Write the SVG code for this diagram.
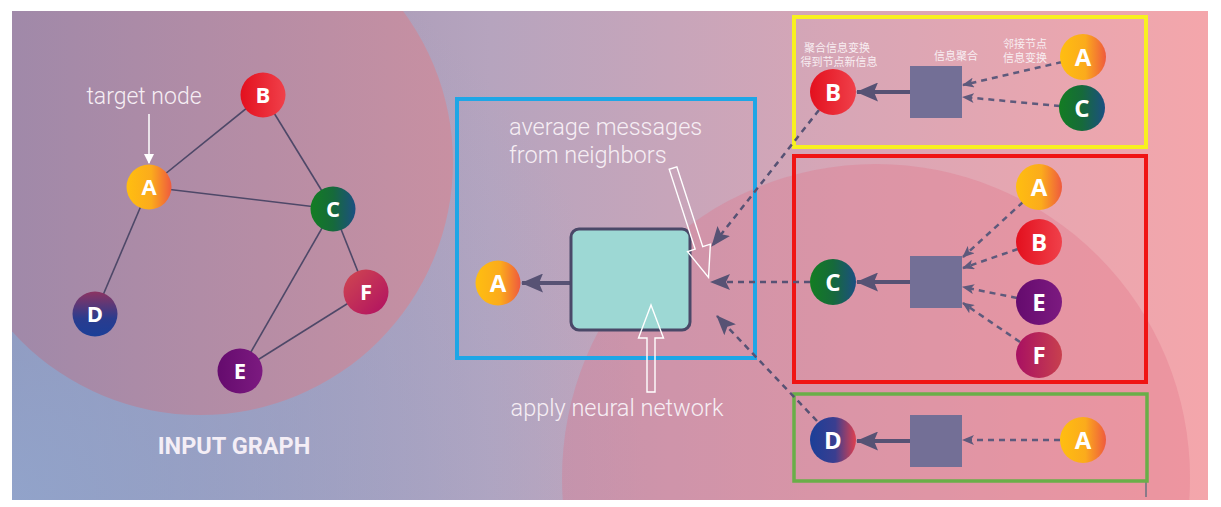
<svg xmlns="http://www.w3.org/2000/svg" width="1221" height="507" viewBox="0 0 1221 507">
<defs>
<linearGradient id="bgH" x1="0" y1="0" x2="1" y2="0">
<stop offset="0" stop-color="#8e8aac"/>
<stop offset="0.4" stop-color="#b6a4be"/>
<stop offset="0.7" stop-color="#d8a6b6"/>
<stop offset="1" stop-color="#f4a6ab"/>
</linearGradient>
<radialGradient id="bgBL" cx="0" cy="507" r="650" gradientUnits="userSpaceOnUse">
<stop offset="0" stop-color="#92a8d0" stop-opacity="0.85"/>
<stop offset="1" stop-color="#92a8d0" stop-opacity="0"/>
</radialGradient>
<linearGradient id="circL" x1="0" y1="0" x2="1" y2="0">
<stop offset="0" stop-color="#9a88aa"/>
<stop offset="1" stop-color="#c890a2"/>
</linearGradient>
<linearGradient id="gA" x1="0" y1="0" x2="1" y2="0"><stop offset="0" stop-color="#ffbe10"/><stop offset="0.55" stop-color="#fbab1c"/><stop offset="1" stop-color="#ef5a3e"/></linearGradient>
<linearGradient id="gB" x1="0" y1="0" x2="1" y2="0"><stop offset="0" stop-color="#e3101e"/><stop offset="1" stop-color="#f0404a"/></linearGradient>
<linearGradient id="gC" x1="0" y1="0" x2="1" y2="0"><stop offset="0" stop-color="#137d22"/><stop offset="0.5" stop-color="#166a3a"/><stop offset="1" stop-color="#1b4f82"/></linearGradient>
<linearGradient id="gD" x1="0" y1="0" x2="1" y2="0"><stop offset="0" stop-color="#1b3f98"/><stop offset="0.55" stop-color="#3a3e90"/><stop offset="1" stop-color="#e0404e"/></linearGradient>
<linearGradient id="gDv" x1="0" y1="0" x2="0" y2="1"><stop offset="0" stop-color="#8c3462"/><stop offset="0.6" stop-color="#2a3c8e"/><stop offset="1" stop-color="#1b3f98"/></linearGradient>
<linearGradient id="gE" x1="0" y1="0" x2="1" y2="0"><stop offset="0" stop-color="#650b6e"/><stop offset="1" stop-color="#7c1a80"/></linearGradient>
<linearGradient id="gF" x1="0" y1="0" x2="1" y2="0"><stop offset="0" stop-color="#a81062"/><stop offset="1" stop-color="#c8404e"/></linearGradient>
<linearGradient id="gFl" x1="0" y1="0" x2="1" y2="1"><stop offset="0" stop-color="#d04850"/><stop offset="1" stop-color="#b01062"/></linearGradient>
<marker id="ahL" viewBox="0 0 20 16" refX="19" refY="8" markerWidth="20" markerHeight="16" markerUnits="userSpaceOnUse" orient="auto"><path d="M0,0 L20,8 L0,16 L4,8 z" fill="#575274"/></marker>
<marker id="ahS" viewBox="0 0 12 10" refX="11" refY="5" markerWidth="12" markerHeight="10" markerUnits="userSpaceOnUse" orient="auto"><path d="M0,0 L12,5 L0,10 L3,5 z" fill="#5e5a7c"/></marker>
<marker id="ahT" viewBox="0 0 22 19" refX="21" refY="9.5" markerWidth="22" markerHeight="19" markerUnits="userSpaceOnUse" orient="auto"><path d="M0,0 L22,9.5 L0,19 L4,9.5 z" fill="#575274"/></marker>
<marker id="ahW" viewBox="0 0 10 10" refX="9" refY="5" markerWidth="10" markerHeight="10" markerUnits="userSpaceOnUse" orient="auto"><path d="M0,0 L10,5 L0,10 z" fill="#ffffff"/></marker>
<style>
.lbl{font-family:"Open Sans","DejaVu Sans",sans-serif;font-weight:700;fill:#ffffff;text-anchor:middle;}
.big{font-size:24px;}
.sm{font-size:22px;}
.thin{font-family:Roboto,"Liberation Sans",sans-serif;font-weight:300;fill:#f6eef4;font-size:23.5px;}
.cn{font-family:"Noto Sans CJK SC","Noto Sans",sans-serif;font-size:11px;fill:#f8eef2;text-anchor:middle;}
.edge{stroke:#4e4868;stroke-width:1.6;fill:none;}
.dash{stroke:#5e5a7c;stroke-width:2.5;stroke-dasharray:6 5;fill:none;}
.dashL{stroke:#575274;stroke-width:2.5;stroke-dasharray:6 5;fill:none;}
.solid{stroke:#575274;stroke-width:4;fill:none;}
.sq{fill:#736f96;}
.hollow{fill:none;stroke:#ffffff;stroke-width:1.4;}
</style>
</defs>
<rect x="0" y="0" width="1221" height="507" fill="#ffffff"/>
<g id="background">
<rect x="12" y="11" width="1196" height="489" fill="url(#bgH)"/>
<rect x="12" y="11" width="1196" height="489" fill="url(#bgBL)"/>
<clipPath id="clipBg"><rect x="12" y="11" width="1196" height="489"/></clipPath>
<g clip-path="url(#clipBg)">
<circle cx="200" cy="162" r="253" fill="url(#circL)"/>
<circle cx="876" cy="478" r="314" fill="#e06c86" fill-opacity="0.3"/>
</g>
<line x1="1146" y1="481" x2="1146" y2="497" stroke="#8a7a88" stroke-width="2"/>
</g>
<g id="frames">
<rect id="blue-box" x="457" y="99" width="298" height="259" fill="none" stroke="#1ea6e6" stroke-width="4"/>
<rect id="yellow-box" x="794" y="17" width="352" height="130" fill="none" stroke="#f8f020" stroke-width="4"/>
<rect id="red-box" x="794" y="156" width="352" height="226" fill="none" stroke="#f01414" stroke-width="4"/>
<rect id="green-box" x="794" y="394" width="353" height="87" fill="none" stroke="#6aae48" stroke-width="3.5"/>
</g>
<g id="connectors">
<line class="edge" x1="149" y1="187" x2="263" y2="95"/>
<line class="edge" x1="149" y1="187" x2="333" y2="209"/>
<line class="edge" x1="263" y1="95" x2="333" y2="209"/>
<line class="edge" x1="149" y1="187" x2="95" y2="314"/>
<line class="edge" x1="333" y1="209" x2="240" y2="371"/>
<line class="edge" x1="333" y1="209" x2="366" y2="292"/>
<line class="edge" x1="240" y1="371" x2="366" y2="292"/>
<line x1="149" y1="114" x2="149" y2="163" stroke="#ffffff" stroke-width="1.5" marker-end="url(#ahW)"/>
<line class="solid" x1="571" y1="283" x2="522" y2="283" marker-end="url(#ahT)"/>
<line class="dashL" x1="819" y1="110" x2="712" y2="246" marker-end="url(#ahL)"/>
<line class="dashL" x1="810" y1="282" x2="711" y2="282" marker-end="url(#ahL)"/>
<line class="dashL" x1="817" y1="421" x2="717" y2="316" marker-end="url(#ahL)"/>
<line class="solid" x1="910" y1="92" x2="857" y2="92" marker-end="url(#ahT)"/>
<line class="dash" x1="1062" y1="62" x2="963" y2="85" marker-end="url(#ahS)"/>
<line class="dash" x1="1060" y1="106" x2="963" y2="97" marker-end="url(#ahS)"/>
<line class="solid" x1="910" y1="282" x2="857" y2="282" marker-end="url(#ahT)"/>
<line class="dash" x1="1023" y1="202" x2="963" y2="257" marker-end="url(#ahS)"/>
<line class="dash" x1="1018" y1="249" x2="963" y2="268" marker-end="url(#ahS)"/>
<line class="dash" x1="1017" y1="298" x2="963" y2="287" marker-end="url(#ahS)"/>
<line class="dash" x1="1020" y1="342" x2="963" y2="303" marker-end="url(#ahS)"/>
<line class="solid" x1="910" y1="441" x2="857" y2="441" marker-end="url(#ahT)"/>
<line class="dash" x1="1060" y1="440" x2="963" y2="440" marker-end="url(#ahS)"/>
</g>
<g id="input-graph">
<g id="g-B"><circle cx="263" cy="95" r="22.5" fill="url(#gB)"/><text class="lbl sm" x="263" y="103">B</text></g>
<g id="g-A"><circle cx="149" cy="187" r="22.5" fill="url(#gA)"/><text class="lbl sm" x="149" y="195">A</text></g>
<g id="g-C"><circle cx="333" cy="209" r="22.5" fill="url(#gC)"/><text class="lbl sm" x="333" y="217">C</text></g>
<g id="g-F"><circle cx="366" cy="292" r="22.5" fill="url(#gFl)"/><text class="lbl sm" x="366" y="300">F</text></g>
<g id="g-D"><circle cx="95" cy="314" r="22.5" fill="url(#gDv)"/><text class="lbl sm" x="95" y="322">D</text></g>
<g id="g-E"><circle cx="240" cy="371" r="22.5" fill="url(#gE)"/><text class="lbl sm" x="240" y="379">E</text></g>
<text x="144" y="104" class="thin" text-anchor="middle" style="font-size:23px">target node</text>
<text x="234" y="454" font-family="Roboto,'Liberation Sans',sans-serif" font-weight="700" font-size="23.5" fill="#f4eef6" text-anchor="middle">INPUT GRAPH</text>
</g>
<g id="aggregate">
<rect id="nn-box" x="571" y="229" width="119" height="101" rx="8" fill="#9dd8d4" stroke="#4a4868" stroke-width="3"/>
<g id="m-A"><circle cx="498" cy="283" r="22.5" fill="url(#gA)"/><text class="lbl big" x="498" y="292">A</text></g>
<text x="509" y="135" class="thin">average messages</text>
<text x="509" y="163" class="thin">from neighbors</text>
<text x="617" y="416" class="thin" text-anchor="middle">apply neural network</text>
<polygon class="hollow" transform="translate(673,168) rotate(72)" points="0,-4 84,-4 84,-12 115,0 84,12 84,4 0,4"/>
<polygon class="hollow" transform="translate(651,392) rotate(-90)" points="0,-4 54,-4 54,-12.5 87,0 54,12.5 54,4 0,4"/>
</g>
<g id="yellow-group">
<rect class="sq" x="910" y="66" width="52" height="52"/>
<g id="y-B"><circle cx="833" cy="92" r="23" fill="url(#gB)"/><text class="lbl big" x="833" y="101">B</text></g>
<g id="y-A"><circle cx="1083" cy="57" r="23" fill="url(#gA)"/><text class="lbl big" x="1083" y="66">A</text></g>
<g id="y-C"><circle cx="1082" cy="108" r="23" fill="url(#gC)"/><text class="lbl big" x="1082" y="117">C</text></g>
<text class="cn" x="837" y="52">聚合信息变换</text>
<text class="cn" x="839" y="66">得到节点新信息</text>
<text class="cn" x="956" y="60">信息聚合</text>
<text class="cn" x="1025" y="48">邻接节点</text>
<text class="cn" x="1025" y="62">信息变换</text>
</g>
<g id="red-group">
<rect class="sq" x="910" y="256" width="52" height="52"/>
<g id="r-C"><circle cx="833" cy="282" r="23" fill="url(#gC)"/><text class="lbl big" x="833" y="291">C</text></g>
<g id="r-A"><circle cx="1039" cy="187" r="23" fill="url(#gA)"/><text class="lbl big" x="1039" y="196">A</text></g>
<g id="r-B"><circle cx="1039" cy="242" r="23" fill="url(#gB)"/><text class="lbl big" x="1039" y="251">B</text></g>
<g id="r-E"><circle cx="1039" cy="302" r="23" fill="url(#gE)"/><text class="lbl big" x="1039" y="311">E</text></g>
<g id="r-F"><circle cx="1039" cy="355" r="23" fill="url(#gF)"/><text class="lbl big" x="1039" y="364">F</text></g>
</g>
<g id="green-group">
<rect class="sq" x="910" y="415" width="52" height="52"/>
<g id="gr-D"><circle cx="833" cy="440" r="23" fill="url(#gD)"/><text class="lbl big" x="833" y="449">D</text></g>
<g id="gr-A"><circle cx="1083" cy="440" r="23" fill="url(#gA)"/><text class="lbl big" x="1083" y="449">A</text></g>
</g>
</svg>
